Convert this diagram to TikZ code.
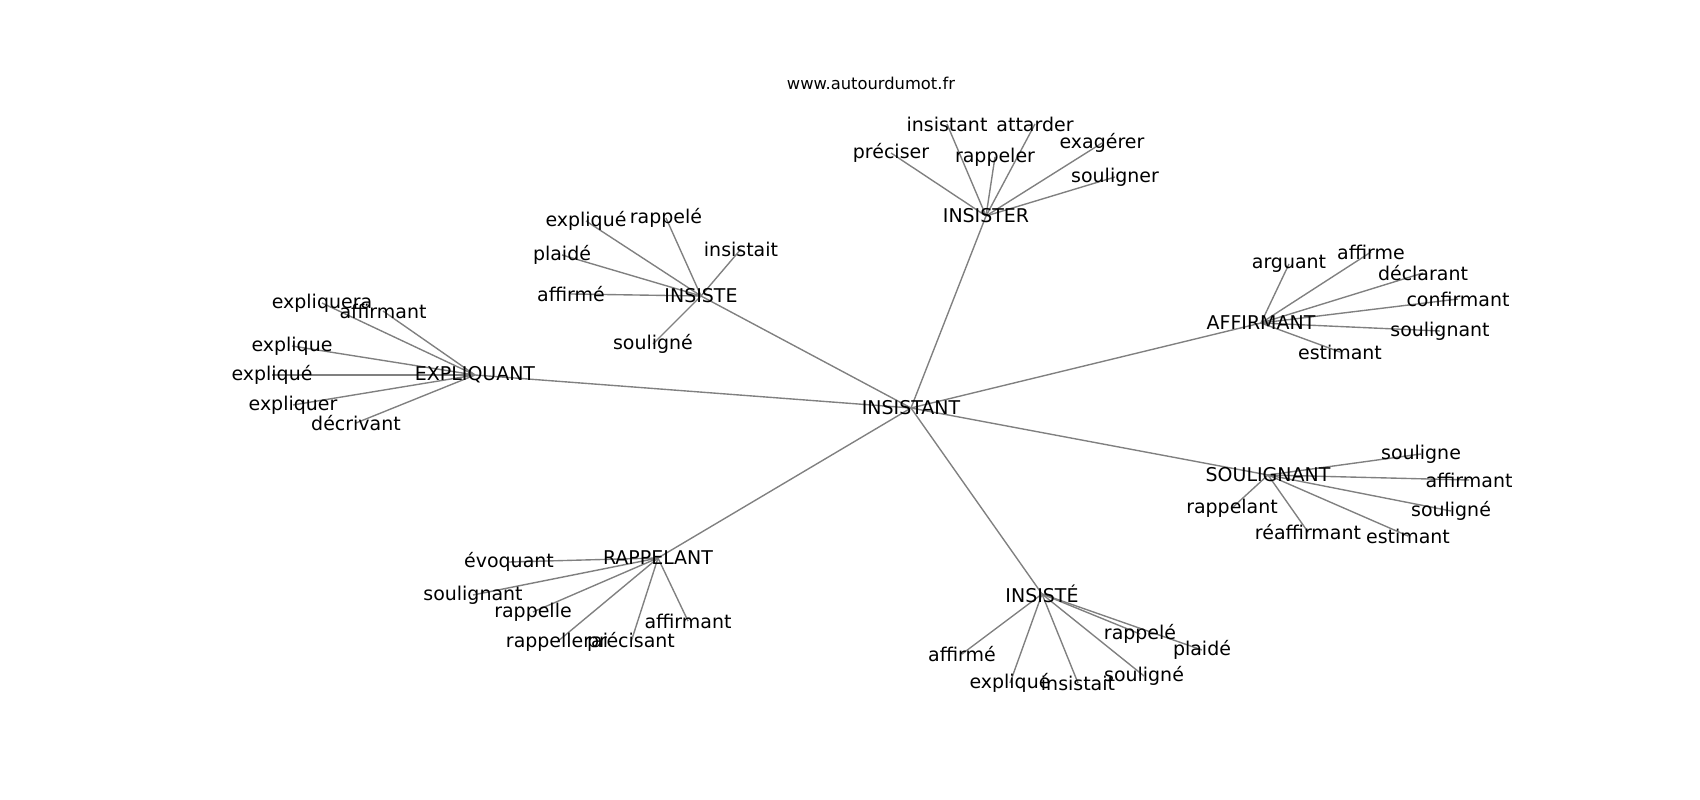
\documentclass[tikz,border=0pt]{standalone}
\usepackage{fontspec}
\setmainfont{DejaVu Sans}
\usepackage{xcolor}
\usepackage{tikz}
\usetikzlibrary{backgrounds}

\begin{document}
\begin{tikzpicture}[x=0.01in, y=-0.01in,
    word/.style={inner sep=0pt, text=black, font=\fontsize{13.7}{16}\selectfont},
    link/.style={draw=gray, line width=1pt}]
                        \useasboundingbox (0,0) rectangle (1700,800);
                        \node[inner sep=0pt, font=\fontsize{11.8}{14}\selectfont] (site) at (871, 83) {www.autourdumot.fr};
                        % centre
                        \node[word] (c) at (911, 408) {INSISTANT};
                        % insister
                        \node[word] (h1) at (986, 216) {INSISTER};
                        \node[word] (h1a) at (891, 153) {préciser};
                        \node[word] (h1b) at (947, 124) {insistant};
                        \node[word] (h1c) at (1035, 124) {attarder};
                        \node[word] (h1d) at (995, 157) {rappeler};
                        \node[word] (h1e) at (1102, 143) {exagérer};
                        \node[word] (h1f) at (1115, 177) {souligner};
                        % insiste
                        \node[word] (h2) at (701, 296) {INSISTE};
                        \node[word] (h2a) at (586, 221) {expliqué};
                        \node[word] (h2b) at (666, 218) {rappelé};
                        \node[word] (h2c) at (741, 249) {insistait};
                        \node[word] (h2d) at (562, 255) {plaidé};
                        \node[word] (h2e) at (571, 294) {affirmé};
                        \node[word] (h2f) at (653, 344) {souligné};
                        % expliquant
                        \node[word] (h3) at (475, 375) {EXPLIQUANT};
                        \node[word] (h3a) at (322, 303) {expliquera};
                        \node[word] (h3b) at (383, 311) {affirmant};
                        \node[word] (h3c) at (292, 346) {explique};
                        \node[word] (h3d) at (272, 375) {expliqué};
                        \node[word] (h3e) at (293, 405) {expliquer};
                        \node[word] (h3f) at (356, 423) {décrivant};
                        % affirmant
                        \node[word] (h4) at (1261, 323) {AFFIRMANT};
                        \node[word] (h4a) at (1289, 264) {arguant};
                        \node[word] (h4b) at (1371, 252) {affirme};
                        \node[word] (h4c) at (1423, 273) {déclarant};
                        \node[word] (h4d) at (1458, 299) {confirmant};
                        \node[word] (h4e) at (1440, 331) {soulignant};
                        \node[word] (h4f) at (1340, 352) {estimant};
                        % soulignant
                        \node[word] (h5) at (1268, 475) {SOULIGNANT};
                        \node[word] (h5a) at (1421, 454) {souligne};
                        \node[word] (h5b) at (1469, 480) {affirmant};
                        \node[word] (h5c) at (1451, 511) {souligné};
                        \node[word] (h5d) at (1232, 508) {rappelant};
                        \node[word] (h5e) at (1308, 532) {réaffirmant};
                        \node[word] (h5f) at (1408, 536) {estimant};
                        % rappelant
                        \node[word] (h6) at (658, 558) {RAPPELANT};
                        \node[word] (h6a) at (509, 562) {évoquant};
                        \node[word] (h6b) at (473, 595) {soulignant};
                        \node[word] (h6c) at (533, 612) {rappelle};
                        \node[word] (h6d) at (557, 642) {rappellerai};
                        \node[word] (h6e) at (631, 642) {précisant};
                        \node[word] (h6f) at (688, 621) {affirmant};
                        % insisté
                        \node[word] (h7) at (1042, 594) {INSISTÉ};
                        \node[word] (h7a) at (962, 654) {affirmé};
                        \node[word] (h7b) at (1010, 683) {expliqué};
                        \node[word] (h7c) at (1078, 683) {insistait};
                        \node[word] (h7d) at (1144, 676) {souligné};
                        \node[word] (h7e) at (1140, 634) {rappelé};
                        \node[word] (h7f) at (1202, 650) {plaidé};
                        \begin{pgfonlayer}{background}
                        \foreach \h in {h1,h2,h3,h4,h5,h6,h7} {
                            \draw[link] (c.center) -- (\h.center);
                            \foreach \l in {a,b,c,d,e,f}
                                \draw[link] (\h.center) -- (\h\l.center);
                        }
                        \end{pgfonlayer}
                        \end{tikzpicture}
\end{document}
